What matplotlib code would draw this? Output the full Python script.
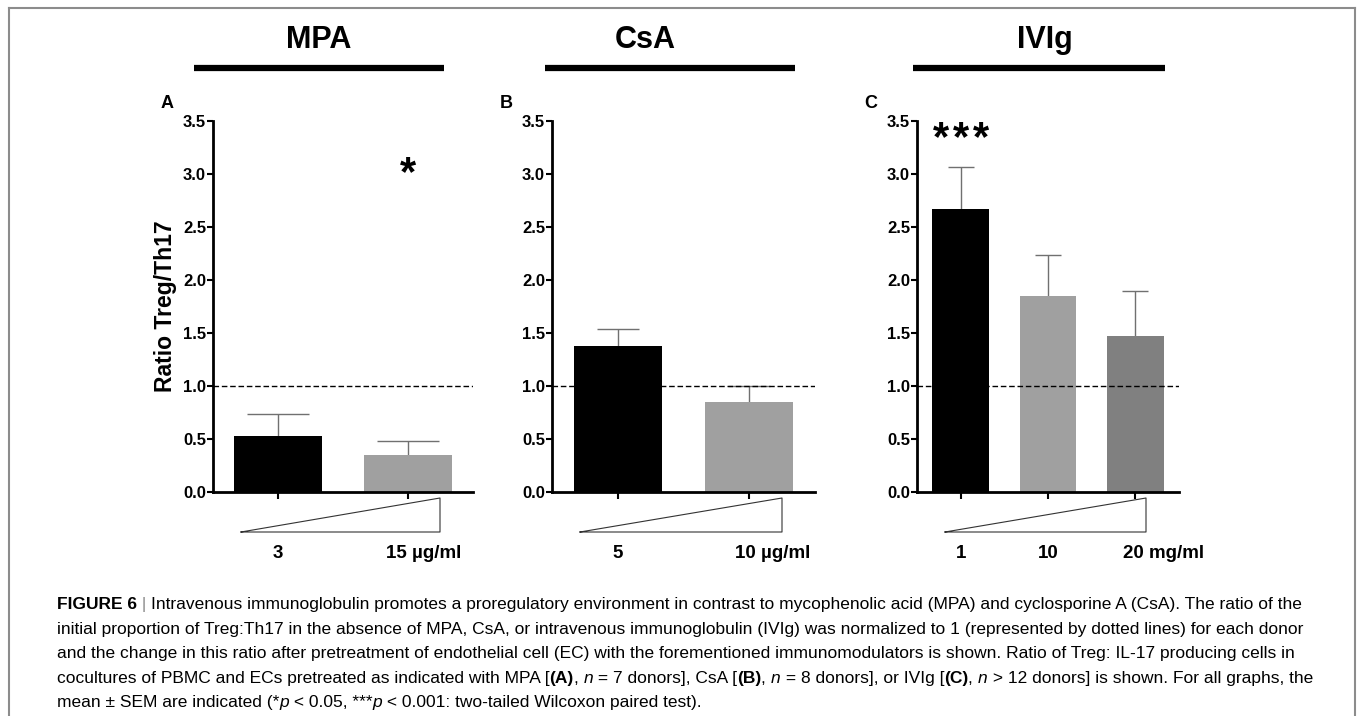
import matplotlib
matplotlib.use("Agg")
import matplotlib.pyplot as plt
from matplotlib.lines import Line2D

plt.rcParams['font.family'] = ['Liberation Sans', 'DejaVu Sans']

W, H = 1358, 716

# ---- data ----
drugs = ['MPA', 'CsA', 'IVIg']
panel_letters = ['A', 'B', 'C']
dose_labels = [['3', '15 µg/ml'], ['5', '10 µg/ml'], ['1', '10', '20 mg/ml']]
means = [[0.53, 0.35], [1.38, 0.85], [2.67, 1.85, 1.47]]
sems = [[0.21, 0.13], [0.16, 0.15], [0.40, 0.39, 0.43]]
bar_colors = [['black', '#a0a0a0'], ['black', '#a0a0a0'], ['black', '#a0a0a0', '#808080']]
stars = ['*', '', '***']
star_bar = [1, None, 0]
star_y = [3.0, None, 3.33]
yticks = [0.0, 0.5, 1.0, 1.5, 2.0, 2.5, 3.0, 3.5]

# ---- layout (pixels) ----
ax_left = [213, 552, 917]
ax_width = [260, 263, 262]
ax_top, ax_bottom = 121, 492
cap_half = [0.236, 0.16, 0.15]
bar_w = [0.67, 0.67, 0.65]
label_x = [[0, 1.12], [0, 1.18], [0, 1, 2.32]]
title_line = [(194, 444), (545, 795), (913, 1165)]
title_x = [319, 645, 1045]


def fx(x):
    return x / W


def fy(y):
    return 1 - y / H


fig = plt.figure(figsize=(W / 100, H / 100), dpi=100)

# outer frame
for xs, ys in [((9, 1355), (8, 8)), ((9, 9), (8, 716)), ((1355, 1355), (8, 716))]:
    fig.add_artist(Line2D([fx(v) for v in xs], [fy(v) for v in ys], color='#8c8c8c', lw=1.5))

for i in range(3):
    l = ax_left[i]
    ax = fig.add_axes([fx(l), fy(ax_bottom), ax_width[i] / W, (ax_bottom - ax_top) / H])
    n = len(means[i])
    pos = list(range(n))
    tops = [m + s for m, s in zip(means[i], sems[i])]
    # upper SEM only
    ax.vlines(pos, means[i], tops, color='#707070', lw=1, zorder=1)
    ax.hlines(tops, [p - cap_half[i] for p in pos], [p + cap_half[i] for p in pos],
              color='#707070', lw=1, zorder=1)
    ax.bar(pos, means[i], width=bar_w[i], color=bar_colors[i], zorder=2)
    ax.axhline(1.0, color='black', lw=1, ls=(0, (4, 2)), zorder=3)
    ax.set_xlim(-0.5, n - 0.5)
    ax.set_ylim(0, 3.5)
    ax.set_yticks(yticks)
    ax.set_yticklabels(['%.1f' % t for t in yticks], fontweight='bold', fontsize=12)
    ax.set_xticks(pos)
    ax.set_xticklabels([])
    ax.tick_params(axis='y', length=4, width=1.5, pad=1)
    ax.tick_params(axis='x', length=5, width=1.5)
    for s in ['top', 'right']:
        ax.spines[s].set_visible(False)
    for s in ['left', 'bottom']:
        ax.spines[s].set_linewidth(2)
    if stars[i]:
        k = len(stars[i])
        for j in range(k):
            ax.annotate('*', (star_bar[i], star_y[i]), xytext=((j - (k - 1) / 2) * 14.5, 0),
                        textcoords='offset points', ha='center', va='center',
                        fontsize=30, fontweight='bold')
    if i == 0:
        ax.set_ylabel('Ratio Treg/Th17', fontsize=16.5, fontweight='bold', labelpad=4)

    # dose labels under triangle
    for lx, lab in zip(label_x[i], dose_labels[i]):
        ax.text(lx, -(553 - ax_bottom) / (ax_bottom - ax_top), lab,
                transform=ax.get_xaxis_transform(), ha='center', va='center',
                fontsize=13.5, fontweight='bold')

    # triangle
    tl, tr = l + 28, l + ax_width[i] - 33
    fig.add_artist(Line2D([fx(tl), fx(tr), fx(tr), fx(tl)],
                          [fy(532), fy(498), fy(532), fy(532)], color='#333333', lw=0.8))

    # panel letter
    fig.text(fx(l - 46), fy(103), panel_letters[i], fontsize=13, fontweight='bold',
             ha='center', va='center')
    # drug title and bar
    fig.text(fx(title_x[i]), fy(40), drugs[i], fontsize=22, fontweight='bold',
             ha='center', va='center')
    x0, x1 = title_line[i]
    fig.add_artist(Line2D([fx(x0), fx(x1)], [fy(68), fy(68)], color='black', lw=4.5,
                          solid_capstyle='butt'))

# caption
cap_lines = [
    [('FIGURE 6', 'bold', 'normal', 'black'), (' | ', 'normal', 'normal', '#888888'),
     ('Intravenous immunoglobulin promotes a proregulatory environment in contrast to mycophenolic acid (MPA) and cyclosporine A (CsA). The ratio of the', 'normal', 'normal', 'black')],
    [('initial proportion of Treg:Th17 in the absence of MPA, CsA, or intravenous immunoglobulin (IVIg) was normalized to 1 (represented by dotted lines) for each donor', 'normal', 'normal', 'black')],
    [('and the change in this ratio after pretreatment of endothelial cell (EC) with the forementioned immunomodulators is shown. Ratio of Treg: IL-17 producing cells in', 'normal', 'normal', 'black')],
    [('cocultures of PBMC and ECs pretreated as indicated with MPA [', 'normal', 'normal', 'black'),
     ('(A)', 'bold', 'normal', 'black'), (', ', 'normal', 'normal', 'black'),
     ('n', 'normal', 'italic', 'black'), (' = 7 donors], CsA [', 'normal', 'normal', 'black'),
     ('(B)', 'bold', 'normal', 'black'), (', ', 'normal', 'normal', 'black'),
     ('n', 'normal', 'italic', 'black'), (' = 8 donors], or IVIg [', 'normal', 'normal', 'black'),
     ('(C)', 'bold', 'normal', 'black'), (', ', 'normal', 'normal', 'black'),
     ('n', 'normal', 'italic', 'black'),
     (' > 12 donors] is shown. For all graphs, the', 'normal', 'normal', 'black')],
    [('mean ± SEM are indicated (*', 'normal', 'normal', 'black'), ('p', 'normal', 'italic', 'black'),
     (' < 0.05, ***', 'normal', 'normal', 'black'), ('p', 'normal', 'italic', 'black'),
     (' < 0.001: two-tailed Wilcoxon paired test).', 'normal', 'normal', 'black')],
]
cap_base = [609, 634, 658, 683, 707]

renderer = fig.canvas.get_renderer()

# find a size so the first caption line spans about the same width as the reference
probe = fig.text(0, 0, ''.join(s[0] for s in cap_lines[0]), fontsize=12)
w12 = probe.get_window_extent(renderer).width
probe.remove()
cap_size = 12 * 1250 / w12

for segs, yy in zip(cap_lines, cap_base):
    x = 57
    for txt, wt, st, col in segs:
        t = fig.text(fx(x), fy(yy), txt, fontsize=cap_size, fontweight=wt, fontstyle=st,
                     color=col, ha='left', va='baseline')
        x += t.get_window_extent(renderer).width

fig.savefig('out.png', dpi=100)
